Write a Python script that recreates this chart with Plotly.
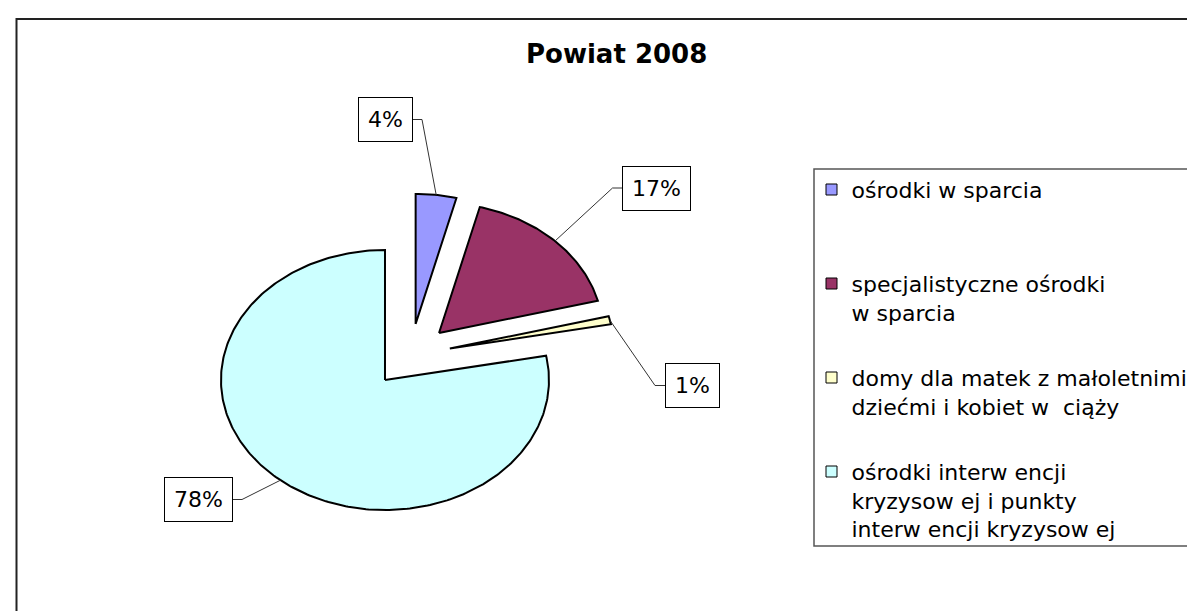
import numpy as np
import plotly.graph_objects as go

# ---------------- data ----------------
title_text = "Powiat 2008"
categories = [
    "ośrodki w sparcia",
    "specjalistyczne ośrodki<br>w sparcia",
    "domy dla matek z małoletnimi<br>dziećmi i kobiet w  ciąży",
    "ośrodki interw encji<br>kryzysow ej i punkty<br>interw encji kryzysow ej",
]
values = [4, 17, 1, 78]
colors = ["#9999FF", "#993366", "#FFFFCC", "#CCFFFF"]

# ---------------- layout constants (pixels) ----------------
W, H = 1195, 611
RX, RY = 164.0, 130.0          # pie radius in px (horizontal / vertical)
CX, CY = 402.6, 347.5          # pie centre in px
EXPLODE = 0.245                # explosion as fraction of radius
FONT = "DejaVu Sans"

# label boxes: centre (px) and which side the leader leaves from
label_pos = [(377, 111.5), (648.5, 180), (684, 377.5), (190, 491.5)]
label_side = ["right", "left", "left", "right"]
label_half_w = [27, 34, 27, 34]
STUB = 10

# legend first-line centres (px)
legend_line_y = [180, 274, 368, 462]
legend_sym_x = 823.5


def px2data(px, py):
    return (px - CX) / RX, (CY - py) / RY


x_lo, x_hi = (0 - CX) / RX, (W - CX) / RX
y_hi, y_lo = CY / RY, (CY - H) / RY

fig = go.Figure()

total = float(sum(values))
cum = 0.0
mids = []
offsets = []
for v, c, name in zip(values, colors, categories):
    a0 = cum / total * 2 * np.pi
    a1 = (cum + v) / total * 2 * np.pi
    cum += v
    mid = (a0 + a1) / 2
    ox, oy = EXPLODE * np.sin(mid), EXPLODE * np.cos(mid)
    mids.append(mid)
    offsets.append((ox, oy))
    t = np.linspace(a0, a1, max(8, int(v * 4)))
    xs = np.concatenate([[ox], ox + np.sin(t), [ox]])
    ys = np.concatenate([[oy], oy + np.cos(t), [oy]])
    fig.add_trace(go.Scatter(
        x=xs, y=ys, mode="lines", fill="toself", fillcolor=c,
        line=dict(color="black", width=2), showlegend=False,
        hoverinfo="text", text=f"{name.replace('<br>', ' ')}: {v}%",
    ))

# leader lines + labels
annotations = []
for i, v in enumerate(values):
    ox, oy = offsets[i]
    ex, ey = ox + np.sin(mids[i]), oy + np.cos(mids[i])
    lx, ly = label_pos[i]
    sx = lx + label_half_w[i] if label_side[i] == "right" else lx - label_half_w[i]
    bx = sx + STUB if label_side[i] == "right" else sx - STUB
    p1 = px2data(sx, ly)
    p2 = px2data(bx, ly)
    fig.add_trace(go.Scatter(
        x=[p1[0], p2[0], ex], y=[p1[1], p2[1], ey], mode="lines",
        line=dict(color="#333333", width=1), showlegend=False, hoverinfo="skip",
    ))
    pct = round(v / total * 100)
    annotations.append(dict(
        text=f"{pct}%", x=lx / W, y=1 - ly / H, xref="paper", yref="paper",
        xanchor="center", yanchor="middle", showarrow=False,
        font=dict(family=FONT, size=22, color="black"),
        bgcolor="white", bordercolor="black", borderwidth=1, borderpad=9,
    ))

annotations.append(dict(
    text=f"<b>{title_text}</b>", x=608.5 / W, y=1 - 46 / H, xref="paper", yref="paper",
    xanchor="center", yanchor="middle", showarrow=False,
    font=dict(family=FONT, size=26, color="black"),
))

# legend entries, one legend per entry so positions match
legend_layouts = {}
LINE_H = 22 * 1.3
for i, (name, c) in enumerate(zip(categories, colors)):
    key = "legend" if i == 0 else f"legend{i + 1}"
    fig.add_trace(go.Scatter(
        x=[None], y=[None], mode="markers", name=name, legend=key,
        marker=dict(symbol="square", size=11, color=c, line=dict(color="black", width=1)),
        showlegend=True,
    ))
    top = legend_line_y[i] - 5 - LINE_H / 2
    legend_layouts[key] = dict(
        x=(legend_sym_x - 20) / W, y=1 - top / H, xanchor="left", yanchor="top",
        bgcolor="rgba(0,0,0,0)", borderwidth=0, valign="top",
        font=dict(family=FONT, size=22, color="black"),
    )

shapes = [
    # chart border
    dict(type="rect", xref="paper", yref="paper", x0=8.5 / W, x1=1.02,
         y0=1 - 11 / H, y1=-0.02, line=dict(color="#222222", width=2), layer="above"),
    # legend box
    dict(type="rect", xref="paper", yref="paper", x0=806 / W, x1=1.02,
         y0=1 - 161 / H, y1=1 - 538 / H, line=dict(color="#555555", width=1.5), layer="below"),
]

fig.update_layout(
    width=W, height=H, margin=dict(l=0, r=0, t=0, b=0),
    paper_bgcolor="white", plot_bgcolor="white",
    xaxis=dict(visible=False, range=[x_lo, x_hi], fixedrange=True),
    yaxis=dict(visible=False, range=[y_lo, y_hi], fixedrange=True),
    showlegend=True, annotations=annotations, shapes=shapes,
    **legend_layouts,
)

fig.write_html("out.html")
